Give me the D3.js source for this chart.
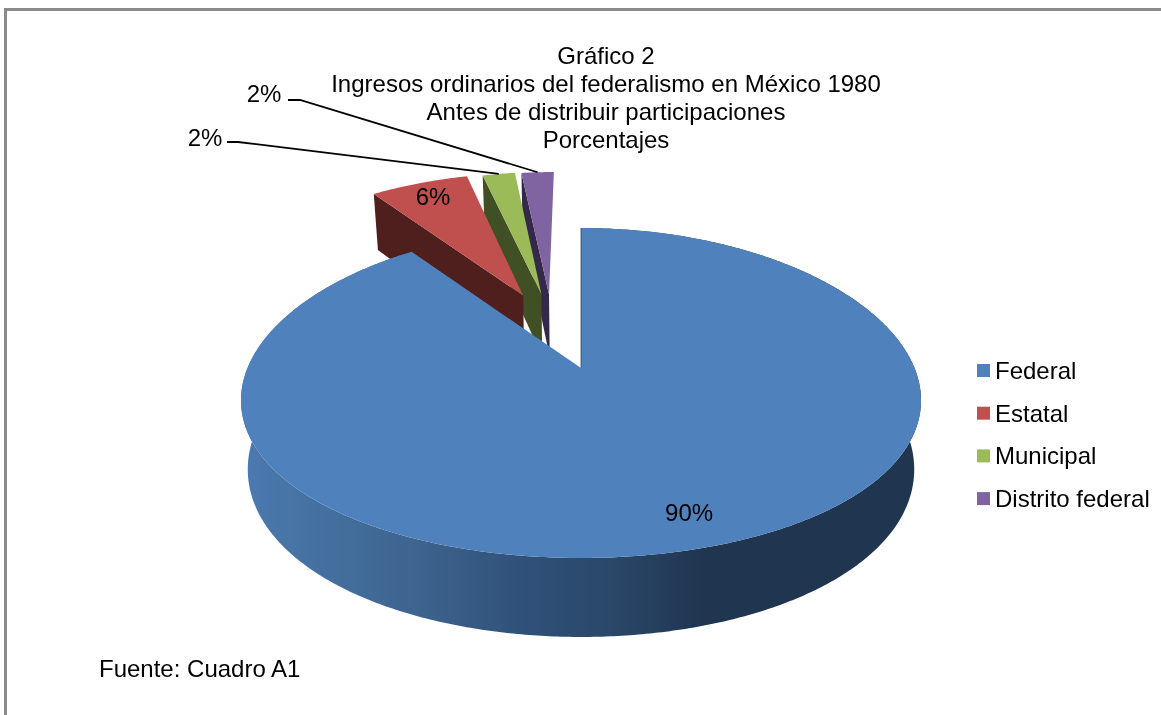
<!DOCTYPE html>
<html><head><meta charset="utf-8">
<script src="https://cdn.jsdelivr.net/npm/d3@7"></script>
<style>
html,body{margin:0;padding:0;background:#fff;overflow:hidden}
svg{display:block;filter:blur(0.45px)}
text{font-family:"Liberation Sans",Arial,sans-serif;fill:#000}
</style></head><body><svg id="c" width="1161" height="715"></svg>
<script>
const categories = ["Federal","Estatal","Municipal","Distrito federal"];
const values = [90,6,2,2];
const valueLabels = ["90%","6%","2%","2%"];
const colors = ["#4f81bd","#c0504d","#9bbb59","#8064a2"];
const wallColors = ["#1f3550","#4f1f1d","#404f24","#35294a"];
const titleLines = ["Gráfico 2","Ingresos ordinarios del federalismo en México 1980","Antes de distribuir participaciones","Porcentajes"];
const sourceNote = "Fuente: Cuadro A1";

const svg = d3.select("#c");
const defs = svg.append("defs");

// perspective projection of the pie disc
const cx=581, cy=368, A=161.2, B=333.5, k=0.1515, kx=0.195, D=67, shrink=0.98;
const explode=[[0,0],[-0.19,0.482],[-0.13,0.49],[-0.105,0.49]];
const color=d3.scaleOrdinal().domain(categories).range(colors);
const wall=d3.scaleOrdinal().domain(categories).range(wallColors);

function proj(u,v,low){
  const w=1+k*v, wx=1+kx*v;
  return [cx+B*u/wx*(low?shrink:1), cy-A*v/w+(low?D/w:0)];
}
function rim(i,a,r,low){
  const e=explode[i];
  return proj(e[0]+r*Math.sin(a), e[1]+r*Math.cos(a), low);
}
function samples(a0,a1){
  const s=d3.range(a0,a1,0.01); s.push(a1); return s;
}
const line=d3.line();
const arcs=d3.pie().sort(null).value(d=>d)(values);

const grad=defs.append("linearGradient").attr("id","wallGrad")
  .attr("gradientUnits","userSpaceOnUse").attr("x1",243).attr("x2",921).attr("y1",0).attr("y2",0);
[[0,"#4c79b0"],[0.12,"#44709f"],[0.25,"#3e648f"],[0.42,"#2f5078"],[0.55,"#2a4768"],[0.68,"#1f3550"],[1,"#1f3550"]]
  .forEach(s=>grad.append("stop").attr("offset",s[0]).attr("stop-color",s[1]));

const frame=svg.append("g").attr("fill","#8a8a8a");
frame.append("rect").attr("x",4).attr("y",8).attr("width",1157).attr("height",3);
frame.append("rect").attr("x",4).attr("y",8).attr("width",3).attr("height",707);

// exploded slices back to front, Federal last
const pieG=svg.append("g");
[3,2,1,0].forEach(i=>{
  const d=arcs[i], name=categories[i];
  const g=pieG.append("g");
  const angs=samples(d.startAngle,d.endAngle);
  const topRim=angs.map(a=>rim(i,a,1,false));
  const lowRim=angs.map(a=>rim(i,a,1,true));
  if(i===0){
    g.append("path").attr("d",line(topRim.concat(lowRim.slice().reverse()))+"Z").attr("fill","url(#wallGrad)");
  } else {
    const f=[rim(i,0,0,false),rim(i,d.startAngle,1,false),rim(i,d.startAngle,1,true),rim(i,0,0,true)];
    g.append("path").attr("d",line(f)+"Z").attr("fill",wall(name));
  }
  g.append("path").attr("d",line([rim(i,0,0,false)].concat(topRim))+"Z").attr("fill",color(name));
  if(i===0){
    g.append("path").attr("d",line([rim(0,0,0,false),rim(0,0,1,false)]))
      .attr("stroke","#2b4a70").attr("stroke-width",0.8).attr("fill","none");
  }
});

// data labels
function labelAt(i,r){
  const d=arcs[i]; const m=(d.startAngle+d.endAngle)/2;
  return rim(i,m,r,false);
}
const fs=24;
[[0,0.83,7,0],[1,0.86,1,-1]].forEach(([i,r,dx,dy])=>{
  const p=labelAt(i,r);
  svg.append("text").attr("x",p[0]+dx).attr("y",p[1]+dy).attr("text-anchor","middle")
    .attr("dominant-baseline","central").attr("font-size",fs).text(valueLabels[i]);
});
// leader-line labels
const leaderLayout=[{i:2,x:205,y:137,sx:227,ex:238,ey:142},{i:3,x:264,y:93,sx:288,ex:300,ey:100}];
leaderLayout.forEach(l=>{
  svg.append("text").attr("x",l.x).attr("y",l.y).attr("text-anchor","middle")
    .attr("dominant-baseline","central").attr("font-size",fs).text(valueLabels[l.i]);
  const p=labelAt(l.i,1);
  svg.append("path").attr("d",line([[l.sx,l.ey],[l.ex,l.ey],p]))
    .attr("fill","none").attr("stroke","#000").attr("stroke-width",1.8);
});

// title
svg.append("g").selectAll("text").data(titleLines).join("text")
  .attr("x",606).attr("y",(d,i)=>55+i*28).attr("text-anchor","middle")
  .attr("dominant-baseline","central").attr("font-size",fs).text(d=>d);

// legend
const lg=svg.append("g").selectAll("g").data(categories).join("g")
  .attr("transform",(d,i)=>`translate(977,${370.5+i*42.7})`);
lg.append("rect").attr("x",0).attr("y",-6.5).attr("width",13).attr("height",13).attr("fill",d=>color(d));
lg.append("text").attr("x",18).attr("y",0).attr("dominant-baseline","central").attr("font-size",fs).text(d=>d);

svg.append("text").attr("x",99).attr("y",668).attr("dominant-baseline","central").attr("font-size",fs).text(sourceNote);
</script></body></html>
